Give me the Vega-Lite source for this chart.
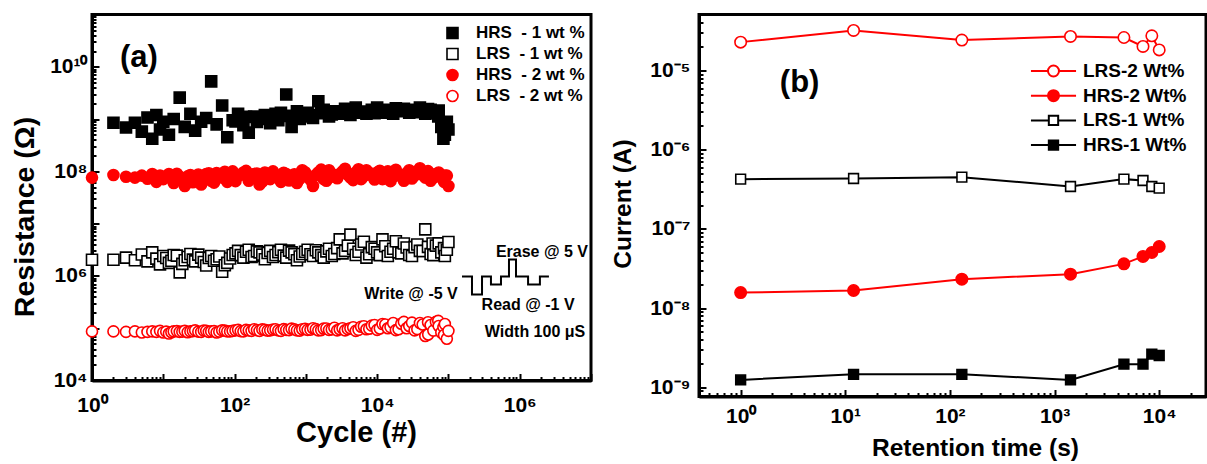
{
  "$schema": "https://vega.github.io/schema/vega-lite/v6.json",
  "background": "white",
  "padding": {"left": 8, "top": 12.5, "right": 0, "bottom": 0},
  "config": {
    "font": "Liberation Sans",
    "view": {"stroke": "black", "strokeWidth": 3},
    "axis": {
      "domainColor": "black", "domainWidth": 3, "tickColor": "black", "tickWidth": 2,
      "labelFont": "Liberation Sans", "labelFontWeight": "bold", "labelColor": "black",
      "titleFont": "Liberation Sans", "titleFontWeight": "bold", "titleColor": "black",
      "grid": false, "labelOverlap": false, "labelFlush": false, "labelBound": false
    },
    "legend": {"labelFont": "Liberation Sans", "labelFontWeight": "bold", "labelColor": "black", "padding": 0}
  },
  "resolve": {
    "scale": {"fill": "independent", "stroke": "independent", "shape": "independent", "color": "independent"},
    "legend": {"fill": "independent", "stroke": "independent", "shape": "independent", "color": "independent"}
  },
  "datasets": {
    "cyc": [
      {"c":2,"r":8.5e8,"s":"HRS\u00a0 - 1 wt %"},{"c":3,"r":6.9e8,"s":"HRS\u00a0 - 1 wt %"},{"c":4,"r":8.5e8,"s":"HRS\u00a0 - 1 wt %"},{"c":5,"r":5.75e8,"s":"HRS\u00a0 - 1 wt %"},{"c":6,"r":1.07e9,"s":"HRS\u00a0 - 1 wt %"},{"c":7,"r":4.2e8,"s":"HRS\u00a0 - 1 wt %"},{"c":8,"r":1.2e9,"s":"HRS\u00a0 - 1 wt %"},{"c":9,"r":6.3e8,"s":"HRS\u00a0 - 1 wt %"},{"c":10,"r":8.9e8,"s":"HRS\u00a0 - 1 wt %"},{"c":12,"r":5.0e8,"s":"HRS\u00a0 - 1 wt %"},{"c":14,"r":1.0e9,"s":"HRS\u00a0 - 1 wt %"},{"c":17,"r":2.57e9,"s":"HRS\u00a0 - 1 wt %"},{"c":20,"r":7.1e8,"s":"HRS\u00a0 - 1 wt %"},{"c":24,"r":1.26e9,"s":"HRS\u00a0 - 1 wt %"},{"c":28,"r":6.0e8,"s":"HRS\u00a0 - 1 wt %"},{"c":34,"r":8.9e8,"s":"HRS\u00a0 - 1 wt %"},{"c":40,"r":1.05e9,"s":"HRS\u00a0 - 1 wt %"},{"c":47,"r":5.25e9,"s":"HRS\u00a0 - 1 wt %"},{"c":56,"r":7.9e8,"s":"HRS\u00a0 - 1 wt %"},{"c":67,"r":1.82e9,"s":"HRS\u00a0 - 1 wt %"},{"c":79,"r":4.5e8,"s":"HRS\u00a0 - 1 wt %"},{"c":94,"r":9.5e8,"s":"HRS\u00a0 - 1 wt %"},{"c":112,"r":1.26e9,"s":"HRS\u00a0 - 1 wt %"},{"c":133,"r":7.6e8,"s":"HRS\u00a0 - 1 wt %"},{"c":158,"r":5.5e8,"s":"HRS\u00a0 - 1 wt %"},{"c":188,"r":1.12e9,"s":"HRS\u00a0 - 1 wt %"},{"c":224,"r":1.0e9,"s":"HRS\u00a0 - 1 wt %"},{"c":266,"r":1.2e9,"s":"HRS\u00a0 - 1 wt %"},{"c":316,"r":8.3e8,"s":"HRS\u00a0 - 1 wt %"},{"c":376,"r":1.26e9,"s":"HRS\u00a0 - 1 wt %"},{"c":447,"r":1.32e9,"s":"HRS\u00a0 - 1 wt %"},{"c":531,"r":2.95e9,"s":"HRS\u00a0 - 1 wt %"},{"c":631,"r":7.1e8,"s":"HRS\u00a0 - 1 wt %"},{"c":750,"r":1.41e9,"s":"HRS\u00a0 - 1 wt %"},{"c":891,"r":1.12e9,"s":"HRS\u00a0 - 1 wt %"},{"c":1059,"r":1.32e9,"s":"HRS\u00a0 - 1 wt %"},{"c":1259,"r":1.05e9,"s":"HRS\u00a0 - 1 wt %"},{"c":1496,"r":2.19e9,"s":"HRS\u00a0 - 1 wt %"},{"c":1778,"r":1.51e9,"s":"HRS\u00a0 - 1 wt %"},{"c":2113,"r":1.12e9,"s":"HRS\u00a0 - 1 wt %"},{"c":2512,"r":1.41e9,"s":"HRS\u00a0 - 1 wt %"},{"c":2985,"r":1.26e9,"s":"HRS\u00a0 - 1 wt %"},{"c":3548,"r":1.58e9,"s":"HRS\u00a0 - 1 wt %"},{"c":4217,"r":1.2e9,"s":"HRS\u00a0 - 1 wt %"},{"c":5012,"r":1.66e9,"s":"HRS\u00a0 - 1 wt %"},{"c":5957,"r":1.32e9,"s":"HRS\u00a0 - 1 wt %"},{"c":7079,"r":1.26e9,"s":"HRS\u00a0 - 1 wt %"},{"c":8414,"r":1.51e9,"s":"HRS\u00a0 - 1 wt %"},{"c":10000,"r":1.66e9,"s":"HRS\u00a0 - 1 wt %"},{"c":11885,"r":1.32e9,"s":"HRS\u00a0 - 1 wt %"},{"c":14125,"r":1.51e9,"s":"HRS\u00a0 - 1 wt %"},{"c":16788,"r":1.26e9,"s":"HRS\u00a0 - 1 wt %"},{"c":19953,"r":1.41e9,"s":"HRS\u00a0 - 1 wt %"},{"c":23714,"r":1.58e9,"s":"HRS\u00a0 - 1 wt %"},{"c":28184,"r":1.32e9,"s":"HRS\u00a0 - 1 wt %"},{"c":33497,"r":1.51e9,"s":"HRS\u00a0 - 1 wt %"},{"c":39811,"r":1.66e9,"s":"HRS\u00a0 - 1 wt %"},{"c":47315,"r":1.26e9,"s":"HRS\u00a0 - 1 wt %"},{"c":56234,"r":1.51e9,"s":"HRS\u00a0 - 1 wt %"},{"c":66834,"r":1.41e9,"s":"HRS\u00a0 - 1 wt %"},{"c":72000,"r":1.12e9,"s":"HRS\u00a0 - 1 wt %"},{"c":79433,"r":7.1e8,"s":"HRS\u00a0 - 1 wt %"},{"c":85000,"r":4.2e8,"s":"HRS\u00a0 - 1 wt %"},{"c":89125,"r":5.0e8,"s":"HRS\u00a0 - 1 wt %"},{"c":95000,"r":8.9e8,"s":"HRS\u00a0 - 1 wt %"},{"c":100000,"r":6.3e8,"s":"HRS\u00a0 - 1 wt %"},
      {"c":103,"r":9.0e8,"s":"HRS\u00a0 - 1 wt %"},{"c":145,"r":1.1e9,"s":"HRS\u00a0 - 1 wt %"},{"c":206,"r":8.8e8,"s":"HRS\u00a0 - 1 wt %"},{"c":291,"r":1.05e9,"s":"HRS\u00a0 - 1 wt %"},{"c":411,"r":9.5e8,"s":"HRS\u00a0 - 1 wt %"},{"c":581,"r":1.15e9,"s":"HRS\u00a0 - 1 wt %"},{"c":820,"r":1.0e9,"s":"HRS\u00a0 - 1 wt %"},{"c":1160,"r":1.2e9,"s":"HRS\u00a0 - 1 wt %"},{"c":1640,"r":1.3e9,"s":"HRS\u00a0 - 1 wt %"},{"c":2310,"r":1.22e9,"s":"HRS\u00a0 - 1 wt %"},{"c":3270,"r":1.35e9,"s":"HRS\u00a0 - 1 wt %"},{"c":4610,"r":1.45e9,"s":"HRS\u00a0 - 1 wt %"},{"c":6510,"r":1.4e9,"s":"HRS\u00a0 - 1 wt %"},{"c":9200,"r":1.3e9,"s":"HRS\u00a0 - 1 wt %"},{"c":13000,"r":1.45e9,"s":"HRS\u00a0 - 1 wt %"},{"c":18300,"r":1.6e9,"s":"HRS\u00a0 - 1 wt %"},{"c":25900,"r":1.45e9,"s":"HRS\u00a0 - 1 wt %"},{"c":36600,"r":1.35e9,"s":"HRS\u00a0 - 1 wt %"},{"c":51700,"r":1.55e9,"s":"HRS\u00a0 - 1 wt %"},{"c":61400,"r":1.3e9,"s":"HRS\u00a0 - 1 wt %"},{"c":73000,"r":1.45e9,"s":"HRS\u00a0 - 1 wt %"},{"c":86800,"r":8.0e8,"s":"HRS\u00a0 - 1 wt %"},
      {"c":1,"r":2.04e6,"s":"LRS\u00a0 - 1 wt %"},{"c":2,"r":2.04e6,"s":"LRS\u00a0 - 1 wt %"},{"c":3,"r":2.24e6,"s":"LRS\u00a0 - 1 wt %"},{"c":4,"r":2.0e6,"s":"LRS\u00a0 - 1 wt %"},{"c":5,"r":2.57e6,"s":"LRS\u00a0 - 1 wt %"},{"c":6,"r":1.9e6,"s":"LRS\u00a0 - 1 wt %"},{"c":7,"r":2.82e6,"s":"LRS\u00a0 - 1 wt %"},{"c":8,"r":2.14e6,"s":"LRS\u00a0 - 1 wt %"},{"c":9,"r":1.66e6,"s":"LRS\u00a0 - 1 wt %"},{"c":10,"r":2.4e6,"s":"LRS\u00a0 - 1 wt %"},{"c":12,"r":1.78e6,"s":"LRS\u00a0 - 1 wt %"},{"c":14,"r":2.51e6,"s":"LRS\u00a0 - 1 wt %"},{"c":17,"r":1.17e6,"s":"LRS\u00a0 - 1 wt %"},{"c":20,"r":2.0e6,"s":"LRS\u00a0 - 1 wt %"},{"c":24,"r":2.63e6,"s":"LRS\u00a0 - 1 wt %"},{"c":28,"r":1.9e6,"s":"LRS\u00a0 - 1 wt %"},{"c":34,"r":2.24e6,"s":"LRS\u00a0 - 1 wt %"},{"c":40,"r":1.58e6,"s":"LRS\u00a0 - 1 wt %"},{"c":47,"r":2.4e6,"s":"LRS\u00a0 - 1 wt %"},{"c":56,"r":2.09e6,"s":"LRS\u00a0 - 1 wt %"},{"c":67,"r":1.2e6,"s":"LRS\u00a0 - 1 wt %"},{"c":79,"r":1.78e6,"s":"LRS\u00a0 - 1 wt %"},{"c":94,"r":2.51e6,"s":"LRS\u00a0 - 1 wt %"},{"c":112,"r":3.02e6,"s":"LRS\u00a0 - 1 wt %"},{"c":133,"r":2.24e6,"s":"LRS\u00a0 - 1 wt %"},{"c":158,"r":3.16e6,"s":"LRS\u00a0 - 1 wt %"},{"c":188,"r":2.4e6,"s":"LRS\u00a0 - 1 wt %"},{"c":224,"r":2.82e6,"s":"LRS\u00a0 - 1 wt %"},{"c":266,"r":2.09e6,"s":"LRS\u00a0 - 1 wt %"},{"c":316,"r":3.02e6,"s":"LRS\u00a0 - 1 wt %"},{"c":376,"r":2.51e6,"s":"LRS\u00a0 - 1 wt %"},{"c":447,"r":3.16e6,"s":"LRS\u00a0 - 1 wt %"},{"c":531,"r":2.24e6,"s":"LRS\u00a0 - 1 wt %"},{"c":631,"r":2.82e6,"s":"LRS\u00a0 - 1 wt %"},{"c":750,"r":2.0e6,"s":"LRS\u00a0 - 1 wt %"},{"c":891,"r":2.63e6,"s":"LRS\u00a0 - 1 wt %"},{"c":1059,"r":3.16e6,"s":"LRS\u00a0 - 1 wt %"},{"c":1259,"r":2.4e6,"s":"LRS\u00a0 - 1 wt %"},{"c":1496,"r":2.82e6,"s":"LRS\u00a0 - 1 wt %"},{"c":1778,"r":2.24e6,"s":"LRS\u00a0 - 1 wt %"},{"c":2113,"r":3.31e6,"s":"LRS\u00a0 - 1 wt %"},{"c":2512,"r":2.63e6,"s":"LRS\u00a0 - 1 wt %"},{"c":2985,"r":5.0e6,"s":"LRS\u00a0 - 1 wt %"},{"c":3548,"r":3.02e6,"s":"LRS\u00a0 - 1 wt %"},{"c":4217,"r":6.17e6,"s":"LRS\u00a0 - 1 wt %"},{"c":5012,"r":2.51e6,"s":"LRS\u00a0 - 1 wt %"},{"c":5957,"r":3.98e6,"s":"LRS\u00a0 - 1 wt %"},{"c":7079,"r":2.24e6,"s":"LRS\u00a0 - 1 wt %"},{"c":8414,"r":3.55e6,"s":"LRS\u00a0 - 1 wt %"},{"c":10000,"r":2.82e6,"s":"LRS\u00a0 - 1 wt %"},{"c":11885,"r":5.0e6,"s":"LRS\u00a0 - 1 wt %"},{"c":14125,"r":2.4e6,"s":"LRS\u00a0 - 1 wt %"},{"c":16788,"r":3.31e6,"s":"LRS\u00a0 - 1 wt %"},{"c":19953,"r":2.82e6,"s":"LRS\u00a0 - 1 wt %"},{"c":23714,"r":4.17e6,"s":"LRS\u00a0 - 1 wt %"},{"c":28184,"r":2.51e6,"s":"LRS\u00a0 - 1 wt %"},{"c":33497,"r":3.55e6,"s":"LRS\u00a0 - 1 wt %"},{"c":39811,"r":3.02e6,"s":"LRS\u00a0 - 1 wt %"},{"c":47315,"r":7.76e6,"s":"LRS\u00a0 - 1 wt %"},{"c":56234,"r":2.63e6,"s":"LRS\u00a0 - 1 wt %"},{"c":60000,"r":4.17e6,"s":"LRS\u00a0 - 1 wt %"},{"c":66834,"r":3.8e6,"s":"LRS\u00a0 - 1 wt %"},{"c":79433,"r":2.82e6,"s":"LRS\u00a0 - 1 wt %"},{"c":89125,"r":2.4e6,"s":"LRS\u00a0 - 1 wt %"},{"c":95000,"r":3.16e6,"s":"LRS\u00a0 - 1 wt %"},{"c":100000,"r":4.47e6,"s":"LRS\u00a0 - 1 wt %"},
      {"c":11,"r":2.2e6,"s":"LRS\u00a0 - 1 wt %"},{"c":13,"r":1.95e6,"s":"LRS\u00a0 - 1 wt %"},{"c":15.5,"r":2.45e6,"s":"LRS\u00a0 - 1 wt %"},{"c":18.5,"r":1.7e6,"s":"LRS\u00a0 - 1 wt %"},{"c":22,"r":2.3e6,"s":"LRS\u00a0 - 1 wt %"},{"c":26,"r":2.05e6,"s":"LRS\u00a0 - 1 wt %"},{"c":31,"r":2.55e6,"s":"LRS\u00a0 - 1 wt %"},{"c":37,"r":1.85e6,"s":"LRS\u00a0 - 1 wt %"},{"c":43.5,"r":2.2e6,"s":"LRS\u00a0 - 1 wt %"},{"c":51.5,"r":1.95e6,"s":"LRS\u00a0 - 1 wt %"},{"c":61,"r":2.35e6,"s":"LRS\u00a0 - 1 wt %"},{"c":73,"r":1.6e6,"s":"LRS\u00a0 - 1 wt %"},{"c":86.5,"r":2.15e6,"s":"LRS\u00a0 - 1 wt %"},{"c":103,"r":2.7e6,"s":"LRS\u00a0 - 1 wt %"},{"c":122,"r":2.5e6,"s":"LRS\u00a0 - 1 wt %"},{"c":145,"r":2.9e6,"s":"LRS\u00a0 - 1 wt %"},{"c":173,"r":2.3e6,"s":"LRS\u00a0 - 1 wt %"},{"c":206,"r":2.95e6,"s":"LRS\u00a0 - 1 wt %"},{"c":245,"r":2.55e6,"s":"LRS\u00a0 - 1 wt %"},{"c":291,"r":2.75e6,"s":"LRS\u00a0 - 1 wt %"},{"c":346,"r":2.3e6,"s":"LRS\u00a0 - 1 wt %"},{"c":411,"r":2.85e6,"s":"LRS\u00a0 - 1 wt %"},{"c":489,"r":2.45e6,"s":"LRS\u00a0 - 1 wt %"},{"c":581,"r":3.05e6,"s":"LRS\u00a0 - 1 wt %"},{"c":690,"r":2.6e6,"s":"LRS\u00a0 - 1 wt %"},{"c":820,"r":2.35e6,"s":"LRS\u00a0 - 1 wt %"},{"c":975,"r":2.9e6,"s":"LRS\u00a0 - 1 wt %"},{"c":1160,"r":2.6e6,"s":"LRS\u00a0 - 1 wt %"},{"c":1380,"r":3.1e6,"s":"LRS\u00a0 - 1 wt %"},{"c":1640,"r":2.5e6,"s":"LRS\u00a0 - 1 wt %"},{"c":1940,"r":2.95e6,"s":"LRS\u00a0 - 1 wt %"},{"c":2310,"r":2.4e6,"s":"LRS\u00a0 - 1 wt %"},{"c":2750,"r":3.4e6,"s":"LRS\u00a0 - 1 wt %"},{"c":3270,"r":2.7e6,"s":"LRS\u00a0 - 1 wt %"},{"c":3880,"r":3.8e6,"s":"LRS\u00a0 - 1 wt %"},{"c":4610,"r":3.3e6,"s":"LRS\u00a0 - 1 wt %"},{"c":5480,"r":2.9e6,"s":"LRS\u00a0 - 1 wt %"},{"c":6510,"r":4.5e6,"s":"LRS\u00a0 - 1 wt %"},{"c":7740,"r":2.6e6,"s":"LRS\u00a0 - 1 wt %"},{"c":9200,"r":3.3e6,"s":"LRS\u00a0 - 1 wt %"},{"c":10900,"r":2.5e6,"s":"LRS\u00a0 - 1 wt %"},{"c":13000,"r":3.7e6,"s":"LRS\u00a0 - 1 wt %"},{"c":15400,"r":2.9e6,"s":"LRS\u00a0 - 1 wt %"},{"c":18300,"r":4.6e6,"s":"LRS\u00a0 - 1 wt %"},{"c":21800,"r":2.7e6,"s":"LRS\u00a0 - 1 wt %"},{"c":25900,"r":3.5e6,"s":"LRS\u00a0 - 1 wt %"},{"c":30800,"r":2.4e6,"s":"LRS\u00a0 - 1 wt %"},{"c":36600,"r":4.0e6,"s":"LRS\u00a0 - 1 wt %"},{"c":43500,"r":3.0e6,"s":"LRS\u00a0 - 1 wt %"},{"c":51700,"r":3.6e6,"s":"LRS\u00a0 - 1 wt %"},{"c":61400,"r":2.5e6,"s":"LRS\u00a0 - 1 wt %"},{"c":73000,"r":4.2e6,"s":"LRS\u00a0 - 1 wt %"},{"c":86800,"r":3.4e6,"s":"LRS\u00a0 - 1 wt %"},
      {"c":1,"r":7.6e7,"s":"HRS\u00a0 - 2 wt %"},{"c":2,"r":8.5e7,"s":"HRS\u00a0 - 2 wt %"},{"c":3,"r":7.9e7,"s":"HRS\u00a0 - 2 wt %"},{"c":4,"r":7.6e7,"s":"HRS\u00a0 - 2 wt %"},{"c":5,"r":8.3e7,"s":"HRS\u00a0 - 2 wt %"},{"c":6,"r":7.2e7,"s":"HRS\u00a0 - 2 wt %"},{"c":7,"r":8.9e7,"s":"HRS\u00a0 - 2 wt %"},{"c":8,"r":6.3e7,"s":"HRS\u00a0 - 2 wt %"},{"c":9,"r":8.3e7,"s":"HRS\u00a0 - 2 wt %"},{"c":10,"r":7.1e7,"s":"HRS\u00a0 - 2 wt %"},{"c":12,"r":8.9e7,"s":"HRS\u00a0 - 2 wt %"},{"c":14,"r":6.0e7,"s":"HRS\u00a0 - 2 wt %"},{"c":17,"r":7.9e7,"s":"HRS\u00a0 - 2 wt %"},{"c":20,"r":5.25e7,"s":"HRS\u00a0 - 2 wt %"},{"c":24,"r":8.5e7,"s":"HRS\u00a0 - 2 wt %"},{"c":28,"r":7.1e7,"s":"HRS\u00a0 - 2 wt %"},{"c":34,"r":5.6e7,"s":"HRS\u00a0 - 2 wt %"},{"c":40,"r":8.9e7,"s":"HRS\u00a0 - 2 wt %"},{"c":47,"r":6.6e7,"s":"HRS\u00a0 - 2 wt %"},{"c":56,"r":9.3e7,"s":"HRS\u00a0 - 2 wt %"},{"c":67,"r":7.6e7,"s":"HRS\u00a0 - 2 wt %"},{"c":79,"r":6.3e7,"s":"HRS\u00a0 - 2 wt %"},{"c":94,"r":1.0e8,"s":"HRS\u00a0 - 2 wt %"},{"c":112,"r":8.3e7,"s":"HRS\u00a0 - 2 wt %"},{"c":133,"r":9.5e7,"s":"HRS\u00a0 - 2 wt %"},{"c":158,"r":6.6e7,"s":"HRS\u00a0 - 2 wt %"},{"c":188,"r":8.9e7,"s":"HRS\u00a0 - 2 wt %"},{"c":224,"r":5.6e7,"s":"HRS\u00a0 - 2 wt %"},{"c":266,"r":9.5e7,"s":"HRS\u00a0 - 2 wt %"},{"c":316,"r":7.1e7,"s":"HRS\u00a0 - 2 wt %"},{"c":376,"r":8.3e7,"s":"HRS\u00a0 - 2 wt %"},{"c":447,"r":6.3e7,"s":"HRS\u00a0 - 2 wt %"},{"c":531,"r":8.9e7,"s":"HRS\u00a0 - 2 wt %"},{"c":631,"r":7.6e7,"s":"HRS\u00a0 - 2 wt %"},{"c":750,"r":6.0e7,"s":"HRS\u00a0 - 2 wt %"},{"c":891,"r":1.05e8,"s":"HRS\u00a0 - 2 wt %"},{"c":1059,"r":7.9e7,"s":"HRS\u00a0 - 2 wt %"},{"c":1259,"r":5.25e7,"s":"HRS\u00a0 - 2 wt %"},{"c":1496,"r":9.5e7,"s":"HRS\u00a0 - 2 wt %"},{"c":1778,"r":7.1e7,"s":"HRS\u00a0 - 2 wt %"},{"c":2113,"r":1.05e8,"s":"HRS\u00a0 - 2 wt %"},{"c":2512,"r":7.9e7,"s":"HRS\u00a0 - 2 wt %"},{"c":2985,"r":8.9e7,"s":"HRS\u00a0 - 2 wt %"},{"c":3548,"r":1.12e8,"s":"HRS\u00a0 - 2 wt %"},{"c":4217,"r":7.6e7,"s":"HRS\u00a0 - 2 wt %"},{"c":5012,"r":9.5e7,"s":"HRS\u00a0 - 2 wt %"},{"c":5957,"r":7.1e7,"s":"HRS\u00a0 - 2 wt %"},{"c":7079,"r":1.05e8,"s":"HRS\u00a0 - 2 wt %"},{"c":8414,"r":8.3e7,"s":"HRS\u00a0 - 2 wt %"},{"c":10000,"r":9.5e7,"s":"HRS\u00a0 - 2 wt %"},{"c":11885,"r":7.1e7,"s":"HRS\u00a0 - 2 wt %"},{"c":14125,"r":1.0e8,"s":"HRS\u00a0 - 2 wt %"},{"c":16788,"r":7.9e7,"s":"HRS\u00a0 - 2 wt %"},{"c":19953,"r":8.9e7,"s":"HRS\u00a0 - 2 wt %"},{"c":23714,"r":6.6e7,"s":"HRS\u00a0 - 2 wt %"},{"c":28184,"r":1.05e8,"s":"HRS\u00a0 - 2 wt %"},{"c":33497,"r":8.3e7,"s":"HRS\u00a0 - 2 wt %"},{"c":39811,"r":1.15e8,"s":"HRS\u00a0 - 2 wt %"},{"c":47315,"r":7.6e7,"s":"HRS\u00a0 - 2 wt %"},{"c":56234,"r":6.6e7,"s":"HRS\u00a0 - 2 wt %"},{"c":66834,"r":8.9e7,"s":"HRS\u00a0 - 2 wt %"},{"c":79433,"r":7.6e7,"s":"HRS\u00a0 - 2 wt %"},{"c":89125,"r":8.3e7,"s":"HRS\u00a0 - 2 wt %"},{"c":95000,"r":8.3e7,"s":"HRS\u00a0 - 2 wt %"},{"c":100000,"r":5.25e7,"s":"HRS\u00a0 - 2 wt %"},
      {"c":11,"r":8.1e7,"s":"HRS\u00a0 - 2 wt %"},{"c":13,"r":7.4e7,"s":"HRS\u00a0 - 2 wt %"},{"c":15.5,"r":9.0e7,"s":"HRS\u00a0 - 2 wt %"},{"c":18.5,"r":6.8e7,"s":"HRS\u00a0 - 2 wt %"},{"c":22,"r":8.0e7,"s":"HRS\u00a0 - 2 wt %"},{"c":26,"r":6.2e7,"s":"HRS\u00a0 - 2 wt %"},{"c":31,"r":8.7e7,"s":"HRS\u00a0 - 2 wt %"},{"c":37,"r":7.0e7,"s":"HRS\u00a0 - 2 wt %"},{"c":43.5,"r":9.2e7,"s":"HRS\u00a0 - 2 wt %"},{"c":51.5,"r":6.1e7,"s":"HRS\u00a0 - 2 wt %"},{"c":61,"r":8.4e7,"s":"HRS\u00a0 - 2 wt %"},{"c":73,"r":9.8e7,"s":"HRS\u00a0 - 2 wt %"},{"c":86.5,"r":7.3e7,"s":"HRS\u00a0 - 2 wt %"},{"c":103,"r":6.5e7,"s":"HRS\u00a0 - 2 wt %"},{"c":122,"r":8.6e7,"s":"HRS\u00a0 - 2 wt %"},{"c":145,"r":1.02e8,"s":"HRS\u00a0 - 2 wt %"},{"c":173,"r":7.5e7,"s":"HRS\u00a0 - 2 wt %"},{"c":206,"r":9.1e7,"s":"HRS\u00a0 - 2 wt %"},{"c":245,"r":6.4e7,"s":"HRS\u00a0 - 2 wt %"},{"c":291,"r":8.2e7,"s":"HRS\u00a0 - 2 wt %"},{"c":346,"r":1.0e8,"s":"HRS\u00a0 - 2 wt %"},{"c":411,"r":7.7e7,"s":"HRS\u00a0 - 2 wt %"},{"c":489,"r":9.4e7,"s":"HRS\u00a0 - 2 wt %"},{"c":581,"r":6.7e7,"s":"HRS\u00a0 - 2 wt %"},{"c":690,"r":8.8e7,"s":"HRS\u00a0 - 2 wt %"},{"c":820,"r":7.2e7,"s":"HRS\u00a0 - 2 wt %"},{"c":975,"r":9.6e7,"s":"HRS\u00a0 - 2 wt %"},{"c":1160,"r":6.9e7,"s":"HRS\u00a0 - 2 wt %"},{"c":1380,"r":8.5e7,"s":"HRS\u00a0 - 2 wt %"},{"c":1640,"r":1.08e8,"s":"HRS\u00a0 - 2 wt %"},{"c":1940,"r":6.6e7,"s":"HRS\u00a0 - 2 wt %"},{"c":2310,"r":9.0e7,"s":"HRS\u00a0 - 2 wt %"},{"c":2750,"r":7.4e7,"s":"HRS\u00a0 - 2 wt %"},{"c":3270,"r":1.0e8,"s":"HRS\u00a0 - 2 wt %"},{"c":3880,"r":8.6e7,"s":"HRS\u00a0 - 2 wt %"},{"c":4610,"r":6.8e7,"s":"HRS\u00a0 - 2 wt %"},{"c":5480,"r":1.1e8,"s":"HRS\u00a0 - 2 wt %"},{"c":6510,"r":8.1e7,"s":"HRS\u00a0 - 2 wt %"},{"c":7740,"r":9.4e7,"s":"HRS\u00a0 - 2 wt %"},{"c":9200,"r":7.0e7,"s":"HRS\u00a0 - 2 wt %"},{"c":10900,"r":1.03e8,"s":"HRS\u00a0 - 2 wt %"},{"c":13000,"r":8.4e7,"s":"HRS\u00a0 - 2 wt %"},{"c":15400,"r":6.5e7,"s":"HRS\u00a0 - 2 wt %"},{"c":18300,"r":1.07e8,"s":"HRS\u00a0 - 2 wt %"},{"c":21800,"r":8.0e7,"s":"HRS\u00a0 - 2 wt %"},{"c":25900,"r":9.2e7,"s":"HRS\u00a0 - 2 wt %"},{"c":30800,"r":7.3e7,"s":"HRS\u00a0 - 2 wt %"},{"c":36600,"r":9.9e7,"s":"HRS\u00a0 - 2 wt %"},{"c":43500,"r":8.6e7,"s":"HRS\u00a0 - 2 wt %"},{"c":51700,"r":1.01e8,"s":"HRS\u00a0 - 2 wt %"},{"c":61400,"r":7.5e7,"s":"HRS\u00a0 - 2 wt %"},{"c":73000,"r":9.5e7,"s":"HRS\u00a0 - 2 wt %"},{"c":86800,"r":6.3e7,"s":"HRS\u00a0 - 2 wt %"},
      {"c":1,"r":8.7e4,"s":"LRS\u00a0 - 2 wt %"},{"c":2,"r":8.7e4,"s":"LRS\u00a0 - 2 wt %"},{"c":3,"r":8.5e4,"s":"LRS\u00a0 - 2 wt %"},{"c":4,"r":8.7e4,"s":"LRS\u00a0 - 2 wt %"},{"c":5,"r":8.3e4,"s":"LRS\u00a0 - 2 wt %"},{"c":6,"r":8.5e4,"s":"LRS\u00a0 - 2 wt %"},{"c":7,"r":8.7e4,"s":"LRS\u00a0 - 2 wt %"},{"c":8,"r":8.5e4,"s":"LRS\u00a0 - 2 wt %"},{"c":9,"r":8.9e4,"s":"LRS\u00a0 - 2 wt %"},{"c":10,"r":8.3e4,"s":"LRS\u00a0 - 2 wt %"},{"c":12,"r":7.9e4,"s":"LRS\u00a0 - 2 wt %"},{"c":14,"r":8.7e4,"s":"LRS\u00a0 - 2 wt %"},{"c":17,"r":8.5e4,"s":"LRS\u00a0 - 2 wt %"},{"c":20,"r":8.9e4,"s":"LRS\u00a0 - 2 wt %"},{"c":24,"r":8.7e4,"s":"LRS\u00a0 - 2 wt %"},{"c":28,"r":9.1e4,"s":"LRS\u00a0 - 2 wt %"},{"c":34,"r":8.5e4,"s":"LRS\u00a0 - 2 wt %"},{"c":40,"r":8.9e4,"s":"LRS\u00a0 - 2 wt %"},{"c":47,"r":8.7e4,"s":"LRS\u00a0 - 2 wt %"},{"c":56,"r":8.3e4,"s":"LRS\u00a0 - 2 wt %"},{"c":67,"r":9.1e4,"s":"LRS\u00a0 - 2 wt %"},{"c":79,"r":8.7e4,"s":"LRS\u00a0 - 2 wt %"},{"c":94,"r":8.9e4,"s":"LRS\u00a0 - 2 wt %"},{"c":112,"r":9.3e4,"s":"LRS\u00a0 - 2 wt %"},{"c":133,"r":8.7e4,"s":"LRS\u00a0 - 2 wt %"},{"c":158,"r":9.1e4,"s":"LRS\u00a0 - 2 wt %"},{"c":188,"r":9.55e4,"s":"LRS\u00a0 - 2 wt %"},{"c":224,"r":8.9e4,"s":"LRS\u00a0 - 2 wt %"},{"c":266,"r":9.3e4,"s":"LRS\u00a0 - 2 wt %"},{"c":316,"r":9.1e4,"s":"LRS\u00a0 - 2 wt %"},{"c":376,"r":9.55e4,"s":"LRS\u00a0 - 2 wt %"},{"c":447,"r":8.9e4,"s":"LRS\u00a0 - 2 wt %"},{"c":531,"r":9.3e4,"s":"LRS\u00a0 - 2 wt %"},{"c":631,"r":9.8e4,"s":"LRS\u00a0 - 2 wt %"},{"c":750,"r":9.1e4,"s":"LRS\u00a0 - 2 wt %"},{"c":891,"r":9.55e4,"s":"LRS\u00a0 - 2 wt %"},{"c":1059,"r":9.3e4,"s":"LRS\u00a0 - 2 wt %"},{"c":1259,"r":1.0e5,"s":"LRS\u00a0 - 2 wt %"},{"c":1496,"r":9.1e4,"s":"LRS\u00a0 - 2 wt %"},{"c":1778,"r":9.8e4,"s":"LRS\u00a0 - 2 wt %"},{"c":2113,"r":9.3e4,"s":"LRS\u00a0 - 2 wt %"},{"c":2512,"r":1.02e5,"s":"LRS\u00a0 - 2 wt %"},{"c":2985,"r":9.55e4,"s":"LRS\u00a0 - 2 wt %"},{"c":3548,"r":9.1e4,"s":"LRS\u00a0 - 2 wt %"},{"c":4217,"r":1.0e5,"s":"LRS\u00a0 - 2 wt %"},{"c":5012,"r":8.9e4,"s":"LRS\u00a0 - 2 wt %"},{"c":5957,"r":1.07e5,"s":"LRS\u00a0 - 2 wt %"},{"c":7079,"r":9.55e4,"s":"LRS\u00a0 - 2 wt %"},{"c":8414,"r":1.12e5,"s":"LRS\u00a0 - 2 wt %"},{"c":10000,"r":9.3e4,"s":"LRS\u00a0 - 2 wt %"},{"c":11885,"r":1.2e5,"s":"LRS\u00a0 - 2 wt %"},{"c":14125,"r":1.0e5,"s":"LRS\u00a0 - 2 wt %"},{"c":16788,"r":1.26e5,"s":"LRS\u00a0 - 2 wt %"},{"c":19953,"r":9.55e4,"s":"LRS\u00a0 - 2 wt %"},{"c":23714,"r":1.32e5,"s":"LRS\u00a0 - 2 wt %"},{"c":28184,"r":1.1e5,"s":"LRS\u00a0 - 2 wt %"},{"c":33497,"r":9.1e4,"s":"LRS\u00a0 - 2 wt %"},{"c":39811,"r":1.26e5,"s":"LRS\u00a0 - 2 wt %"},{"c":47315,"r":7.1e4,"s":"LRS\u00a0 - 2 wt %"},{"c":52000,"r":7.6e4,"s":"LRS\u00a0 - 2 wt %"},{"c":56234,"r":1.15e5,"s":"LRS\u00a0 - 2 wt %"},{"c":66834,"r":1.32e5,"s":"LRS\u00a0 - 2 wt %"},{"c":72000,"r":1.38e5,"s":"LRS\u00a0 - 2 wt %"},{"c":79433,"r":8.3e4,"s":"LRS\u00a0 - 2 wt %"},{"c":85000,"r":1.05e5,"s":"LRS\u00a0 - 2 wt %"},{"c":89125,"r":1.2e5,"s":"LRS\u00a0 - 2 wt %"},{"c":95000,"r":6.3e4,"s":"LRS\u00a0 - 2 wt %"},{"c":100000,"r":8.9e4,"s":"LRS\u00a0 - 2 wt %"},
      {"c":11,"r":8.6e4,"s":"LRS\u00a0 - 2 wt %"},{"c":13,"r":8.4e4,"s":"LRS\u00a0 - 2 wt %"},{"c":15.5,"r":8.8e4,"s":"LRS\u00a0 - 2 wt %"},{"c":18.5,"r":8.6e4,"s":"LRS\u00a0 - 2 wt %"},{"c":22,"r":8.4e4,"s":"LRS\u00a0 - 2 wt %"},{"c":26,"r":8.8e4,"s":"LRS\u00a0 - 2 wt %"},{"c":31,"r":8.6e4,"s":"LRS\u00a0 - 2 wt %"},{"c":37,"r":9.0e4,"s":"LRS\u00a0 - 2 wt %"},{"c":43.5,"r":8.5e4,"s":"LRS\u00a0 - 2 wt %"},{"c":51.5,"r":8.8e4,"s":"LRS\u00a0 - 2 wt %"},{"c":61,"r":8.6e4,"s":"LRS\u00a0 - 2 wt %"},{"c":73,"r":9.0e4,"s":"LRS\u00a0 - 2 wt %"},{"c":86.5,"r":8.7e4,"s":"LRS\u00a0 - 2 wt %"},{"c":103,"r":9.1e4,"s":"LRS\u00a0 - 2 wt %"},{"c":122,"r":8.8e4,"s":"LRS\u00a0 - 2 wt %"},{"c":145,"r":9.3e4,"s":"LRS\u00a0 - 2 wt %"},{"c":173,"r":8.9e4,"s":"LRS\u00a0 - 2 wt %"},{"c":206,"r":9.2e4,"s":"LRS\u00a0 - 2 wt %"},{"c":245,"r":9.5e4,"s":"LRS\u00a0 - 2 wt %"},{"c":291,"r":9.0e4,"s":"LRS\u00a0 - 2 wt %"},{"c":346,"r":9.4e4,"s":"LRS\u00a0 - 2 wt %"},{"c":411,"r":9.1e4,"s":"LRS\u00a0 - 2 wt %"},{"c":489,"r":9.6e4,"s":"LRS\u00a0 - 2 wt %"},{"c":581,"r":9.2e4,"s":"LRS\u00a0 - 2 wt %"},{"c":690,"r":9.5e4,"s":"LRS\u00a0 - 2 wt %"},{"c":820,"r":9.0e4,"s":"LRS\u00a0 - 2 wt %"},{"c":975,"r":9.7e4,"s":"LRS\u00a0 - 2 wt %"},{"c":1160,"r":9.4e4,"s":"LRS\u00a0 - 2 wt %"},{"c":1380,"r":9.6e4,"s":"LRS\u00a0 - 2 wt %"},{"c":1640,"r":9.2e4,"s":"LRS\u00a0 - 2 wt %"},{"c":1940,"r":9.9e4,"s":"LRS\u00a0 - 2 wt %"},{"c":2310,"r":9.5e4,"s":"LRS\u00a0 - 2 wt %"},{"c":2750,"r":9.1e4,"s":"LRS\u00a0 - 2 wt %"},{"c":3270,"r":1.0e5,"s":"LRS\u00a0 - 2 wt %"},{"c":3880,"r":9.6e4,"s":"LRS\u00a0 - 2 wt %"},{"c":4610,"r":1.04e5,"s":"LRS\u00a0 - 2 wt %"},{"c":5480,"r":9.3e4,"s":"LRS\u00a0 - 2 wt %"},{"c":6510,"r":1.09e5,"s":"LRS\u00a0 - 2 wt %"},{"c":7740,"r":9.8e4,"s":"LRS\u00a0 - 2 wt %"},{"c":9200,"r":1.15e5,"s":"LRS\u00a0 - 2 wt %"},{"c":10900,"r":9.9e4,"s":"LRS\u00a0 - 2 wt %"},{"c":13000,"r":1.18e5,"s":"LRS\u00a0 - 2 wt %"},{"c":15400,"r":1.05e5,"s":"LRS\u00a0 - 2 wt %"},{"c":18300,"r":9.2e4,"s":"LRS\u00a0 - 2 wt %"},{"c":21800,"r":1.22e5,"s":"LRS\u00a0 - 2 wt %"},{"c":25900,"r":1.0e5,"s":"LRS\u00a0 - 2 wt %"},{"c":30800,"r":1.28e5,"s":"LRS\u00a0 - 2 wt %"},{"c":36600,"r":9.6e4,"s":"LRS\u00a0 - 2 wt %"},{"c":43500,"r":1.18e5,"s":"LRS\u00a0 - 2 wt %"},{"c":51700,"r":1.3e5,"s":"LRS\u00a0 - 2 wt %"},{"c":61400,"r":9.0e4,"s":"LRS\u00a0 - 2 wt %"},{"c":73000,"r":1.1e5,"s":"LRS\u00a0 - 2 wt %"},{"c":86800,"r":7.4e4,"s":"LRS\u00a0 - 2 wt %"}
    ],
    "pulse": [
      {"k":1,"c":155000,"r":980000},{"k":2,"c":214000,"r":980000},{"k":3,"c":214000,"r":442000},{"k":4,"c":296000,"r":442000},{"k":5,"c":296000,"r":980000},{"k":6,"c":395000,"r":980000},{"k":7,"c":395000,"r":686000},{"k":8,"c":546000,"r":686000},{"k":9,"c":546000,"r":980000},{"k":10,"c":707000,"r":980000},{"k":11,"c":707000,"r":2060000},{"k":12,"c":887000,"r":2060000},{"k":13,"c":887000,"r":980000},{"k":14,"c":1310000,"r":980000},{"k":15,"c":1310000,"r":686000},{"k":16,"c":1920000,"r":686000},{"k":17,"c":1920000,"r":980000},{"k":18,"c":2570000,"r":980000}
    ],
    "ret": [
      {"t":1,"i":2.28e-5,"s":"LRS-2 Wt%"},{"t":12,"i":3.2e-5,"s":"LRS-2 Wt%"},{"t":130,"i":2.42e-5,"s":"LRS-2 Wt%"},{"t":1420,"i":2.69e-5,"s":"LRS-2 Wt%"},{"t":4600,"i":2.61e-5,"s":"LRS-2 Wt%"},{"t":7000,"i":2.01e-5,"s":"LRS-2 Wt%"},{"t":8500,"i":2.74e-5,"s":"LRS-2 Wt%"},{"t":10000,"i":1.82e-5,"s":"LRS-2 Wt%"},
      {"t":1,"i":1.57e-8,"s":"HRS-2 Wt%"},{"t":12,"i":1.67e-8,"s":"HRS-2 Wt%"},{"t":130,"i":2.32e-8,"s":"HRS-2 Wt%"},{"t":1420,"i":2.68e-8,"s":"HRS-2 Wt%"},{"t":4600,"i":3.62e-8,"s":"HRS-2 Wt%"},{"t":7000,"i":4.49e-8,"s":"HRS-2 Wt%"},{"t":8500,"i":5.04e-8,"s":"HRS-2 Wt%"},{"t":10000,"i":6.0e-8,"s":"HRS-2 Wt%"},
      {"t":1,"i":4.25e-7,"s":"LRS-1 Wt%"},{"t":12,"i":4.33e-7,"s":"LRS-1 Wt%"},{"t":130,"i":4.5e-7,"s":"LRS-1 Wt%"},{"t":1420,"i":3.43e-7,"s":"LRS-1 Wt%"},{"t":4600,"i":4.25e-7,"s":"LRS-1 Wt%"},{"t":7000,"i":4.08e-7,"s":"LRS-1 Wt%"},{"t":8500,"i":3.43e-7,"s":"LRS-1 Wt%"},{"t":10000,"i":3.27e-7,"s":"LRS-1 Wt%"},
      {"t":1,"i":1.24e-9,"s":"HRS-1 Wt%"},{"t":12,"i":1.46e-9,"s":"HRS-1 Wt%"},{"t":130,"i":1.46e-9,"s":"HRS-1 Wt%"},{"t":1420,"i":1.24e-9,"s":"HRS-1 Wt%"},{"t":4600,"i":1.96e-9,"s":"HRS-1 Wt%"},{"t":7000,"i":1.96e-9,"s":"HRS-1 Wt%"},{"t":8500,"i":2.62e-9,"s":"HRS-1 Wt%"},{"t":10000,"i":2.52e-9,"s":"HRS-1 Wt%"}
    ]
  },
  "bounds": "flush",
  "spacing": 108,
  "hconcat": [
    {
      "width": 499,
      "height": 366,
      "layer": [
        {
          "data": {"name": "cyc"},
          "mark": {"type": "point", "filled": true, "size": 121, "strokeWidth": 1.6, "opacity": 1},
          "encoding": {
            "x": {"field": "c", "type": "quantitative",
              "scale": {"type": "log", "domain": [1, 10000000], "nice": false},
              "axis": {
                "title": "Cycle (#)", "titleFontSize": 29, "titleX": 264, "titleY": 52, "titleBaseline": "middle", "titleAlign": "center",
                "values": [1,2,3,4,5,6,7,8,9,10,20,30,40,50,60,70,80,90,100,200,300,400,500,600,700,800,900,1000,2000,3000,4000,5000,6000,7000,8000,9000,10000,20000,30000,40000,50000,60000,70000,80000,90000,100000,200000,300000,400000,500000,600000,700000,800000,900000,1000000,2000000,3000000,4000000,5000000,6000000,7000000,8000000,9000000,10000000],
                "labelExpr": "abs(log(datum.value)/LN10-round(log(datum.value)/LN10))<0.000001 && round(log(datum.value)/LN10)%2==0 ? '10'+['⁰','¹','²','³','⁴','⁵','⁶','⁷','⁸','⁹','¹⁰','¹¹'][round(log(datum.value)/LN10)] : ''",
                "labelFontSize": {"condition": {"test": "abs(log(datum.value)/LN10-round(log(datum.value)/LN10))<0.000001", "value": 21}, "value": 1},
                "tickSize": {"condition": {"test": "abs(log(datum.value)/LN10-round(log(datum.value)/LN10))<0.000001", "value": -7}, "value": -4},
                "labelPadding": 21
              }
            },
            "y": {"field": "r", "type": "quantitative",
              "scale": {"type": "log", "domain": [10000, 100000000000], "nice": false},
              "axis": {
                "title": "Resistance (Ω)", "titleFontSize": 28.5, "titleX": -68, "titleY": 202, "titleBaseline": "middle", "titleAlign": "center", "titleAngle": 270,
                "values": [10000,20000,30000,40000,50000,60000,70000,80000,90000,100000,200000,300000,400000,500000,600000,700000,800000,900000,1000000,2000000,3000000,4000000,5000000,6000000,7000000,8000000,9000000,10000000,20000000,30000000,40000000,50000000,60000000,70000000,80000000,90000000,100000000,200000000,300000000,400000000,500000000,600000000,700000000,800000000,900000000,1000000000,2000000000,3000000000,4000000000,5000000000,6000000000,7000000000,8000000000,9000000000,10000000000,20000000000,30000000000,40000000000,50000000000,60000000000,70000000000,80000000000,90000000000],
                "labelExpr": "abs(log(datum.value)/LN10-round(log(datum.value)/LN10))<0.000001 && round(log(datum.value)/LN10)%2==0 ? '10'+['⁰','¹','²','³','⁴','⁵','⁶','⁷','⁸','⁹','¹⁰','¹¹'][round(log(datum.value)/LN10)] : ''",
                "labelFontSize": {"condition": {"test": "abs(log(datum.value)/LN10-round(log(datum.value)/LN10))<0.000001", "value": 21}, "value": 1},
                "tickSize": {"condition": {"test": "abs(log(datum.value)/LN10-round(log(datum.value)/LN10))<0.000001", "value": -7}, "value": -4},
                "labelPadding": 12
              }
            },
            "shape": {"field": "s", "type": "nominal",
              "scale": {"domain": ["HRS\u00a0 - 1 wt %", "LRS\u00a0 - 1 wt %", "HRS\u00a0 - 2 wt %", "LRS\u00a0 - 2 wt %"], "range": ["square", "square", "circle", "circle"]},
              "legend": {"orient": "none", "legendX": 352, "legendY": 10, "title": null, "labelFontSize": 17, "rowPadding": 2, "labelOffset": 15, "symbolStrokeWidth": 1.6, "symbolSize": 121}
            },
            "fill": {"field": "s", "type": "nominal",
              "scale": {"domain": ["HRS\u00a0 - 1 wt %", "LRS\u00a0 - 1 wt %", "HRS\u00a0 - 2 wt %", "LRS\u00a0 - 2 wt %"], "range": ["black", "white", "#ff0000", "white"]}
            },
            "stroke": {"field": "s", "type": "nominal",
              "scale": {"domain": ["HRS\u00a0 - 1 wt %", "LRS\u00a0 - 1 wt %", "HRS\u00a0 - 2 wt %", "LRS\u00a0 - 2 wt %"], "range": ["black", "black", "#ff0000", "#ff0000"]}
            },
            "order": {"field": "c", "type": "quantitative"}
          }
        },
        {
          "data": {"name": "pulse"},
          "mark": {"type": "line", "color": "black", "strokeWidth": 2},
          "encoding": {
            "x": {"field": "c", "type": "quantitative", "scale": {"type": "log", "domain": [1, 10000000], "nice": false}},
            "y": {"field": "r", "type": "quantitative", "scale": {"type": "log", "domain": [10000, 100000000000], "nice": false}},
            "order": {"field": "k", "type": "quantitative"}
          }
        },
        {
          "data": {"values": [{}]},
          "mark": {"type": "text", "text": "(a)", "fontSize": 31, "fontWeight": "bold", "font": "Liberation Sans", "color": "black", "align": "center", "baseline": "middle"},
          "encoding": {
            "x": {"datum": 4.56, "type": "quantitative", "scale": {"type": "log", "domain": [1, 10000000], "nice": false}},
            "y": {"datum": 15000000000, "type": "quantitative", "scale": {"type": "log", "domain": [10000, 100000000000], "nice": false}}
          }
        },
        {
          "data": {"values": [{}]},
          "mark": {"type": "text", "text": "Erase @ 5 V", "fontSize": 16, "fontWeight": "bold", "font": "Liberation Sans", "color": "black", "align": "center", "baseline": "middle"},
          "encoding": {
            "x": {"datum": 2050000, "type": "quantitative", "scale": {"type": "log", "domain": [1, 10000000], "nice": false}},
            "y": {"datum": 2930000, "type": "quantitative", "scale": {"type": "log", "domain": [10000, 100000000000], "nice": false}}
          }
        },
        {
          "data": {"values": [{}]},
          "mark": {"type": "text", "text": "Write @ -5 V", "fontSize": 16, "fontWeight": "bold", "font": "Liberation Sans", "color": "black", "align": "center", "baseline": "middle"},
          "encoding": {
            "x": {"datum": 29800, "type": "quantitative", "scale": {"type": "log", "domain": [1, 10000000], "nice": false}},
            "y": {"datum": 442000, "type": "quantitative", "scale": {"type": "log", "domain": [10000, 100000000000], "nice": false}}
          }
        },
        {
          "data": {"values": [{}]},
          "mark": {"type": "text", "text": "Read @ -1 V", "fontSize": 16, "fontWeight": "bold", "font": "Liberation Sans", "color": "black", "align": "center", "baseline": "middle"},
          "encoding": {
            "x": {"datum": 1310000, "type": "quantitative", "scale": {"type": "log", "domain": [1, 10000000], "nice": false}},
            "y": {"datum": 272000, "type": "quantitative", "scale": {"type": "log", "domain": [10000, 100000000000], "nice": false}}
          }
        },
        {
          "data": {"values": [{}]},
          "mark": {"type": "text", "text": "Width 100 μS", "fontSize": 16, "fontWeight": "bold", "font": "Liberation Sans", "color": "black", "align": "center", "baseline": "middle"},
          "encoding": {
            "x": {"datum": 1640000, "type": "quantitative", "scale": {"type": "log", "domain": [1, 10000000], "nice": false}},
            "y": {"datum": 86500, "type": "quantitative", "scale": {"type": "log", "domain": [10000, 100000000000], "nice": false}}
          }
        }
      ]
    },
    {
      "width": 507,
      "height": 382,
      "resolve": {
        "scale": {"fill": "independent", "stroke": "independent", "color": "independent"},
        "legend": {"fill": "independent", "stroke": "independent", "color": "independent"}
      },
      "layer": [
        {
          "data": {"name": "ret"},
          "mark": {"type": "line", "strokeWidth": 2},
          "encoding": {
            "x": {"field": "t", "type": "quantitative", "scale": {"type": "log", "domain": [0.4, 28000], "nice": false},
              "axis": {
                "title": "Retention time (s)", "titleFontSize": 24.5, "titleX": 276, "titleY": 52, "titleBaseline": "middle", "titleAlign": "center",
                "values": [0.4,0.5,0.6,0.7,0.8,0.9,1,2,3,4,5,6,7,8,9,10,20,30,40,50,60,70,80,90,100,200,300,400,500,600,700,800,900,1000,2000,3000,4000,5000,6000,7000,8000,9000,10000,20000],
                "labelExpr": "abs(log(datum.value)/LN10-round(log(datum.value)/LN10))<0.000001 ? '10'+(datum.value<1?'⁻':'')+['⁰','¹','²','³','⁴','⁵','⁶','⁷','⁸','⁹'][abs(round(log(datum.value)/LN10))] : ''",
                "labelFontSize": {"condition": {"test": "abs(log(datum.value)/LN10-round(log(datum.value)/LN10))<0.000001", "value": 21}, "value": 1},
                "tickSize": {"condition": {"test": "abs(log(datum.value)/LN10-round(log(datum.value)/LN10))<0.000001", "value": -7}, "value": -4},
                "labelPadding": 15.5
              }
            },
            "y": {"field": "i", "type": "quantitative", "scale": {"type": "log", "domain": [7.66e-10, 5.09e-5], "nice": false},
              "axis": {
                "title": "Current (A)", "titleFontSize": 24.5, "titleX": -76, "titleY": 189, "titleBaseline": "middle", "titleAlign": "center", "titleAngle": 270,
                "values": [8e-10,9e-10,1e-9,2e-9,3e-9,4e-9,5e-9,6e-9,7e-9,8e-9,9e-9,1e-8,2e-8,3e-8,4e-8,5e-8,6e-8,7e-8,8e-8,9e-8,1e-7,2e-7,3e-7,4e-7,5e-7,6e-7,7e-7,8e-7,9e-7,1e-6,2e-6,3e-6,4e-6,5e-6,6e-6,7e-6,8e-6,9e-6,1e-5,2e-5,3e-5,4e-5],
                "labelExpr": "abs(log(datum.value)/LN10-round(log(datum.value)/LN10))<0.000001 ? '10'+(datum.value<1?'⁻':'')+['⁰','¹','²','³','⁴','⁵','⁶','⁷','⁸','⁹'][abs(round(log(datum.value)/LN10))] : ''",
                "labelFontSize": {"condition": {"test": "abs(log(datum.value)/LN10-round(log(datum.value)/LN10))<0.000001", "value": 21}, "value": 1},
                "tickSize": {"condition": {"test": "abs(log(datum.value)/LN10-round(log(datum.value)/LN10))<0.000001", "value": -7}, "value": -4},
                "labelPadding": 16
              }
            },
            "color": {"field": "s", "type": "nominal",
              "scale": {"domain": ["LRS-2 Wt%", "HRS-2 Wt%", "LRS-1 Wt%", "HRS-1 Wt%"], "range": ["#ff0000", "#ff0000", "black", "black"]},
              "legend": null
            }
          }
        },
        {
          "data": {"name": "ret"},
          "transform": [{"filter": {"field": "s", "oneOf": ["LRS-2 Wt%", "HRS-2 Wt%"]}}],
          "mark": {"type": "point", "shape": "circle", "filled": true, "size": 130, "strokeWidth": 1.6, "opacity": 1},
          "encoding": {
            "x": {"field": "t", "type": "quantitative", "scale": {"type": "log", "domain": [0.4, 28000], "nice": false}},
            "y": {"field": "i", "type": "quantitative", "scale": {"type": "log", "domain": [7.66e-10, 5.09e-5], "nice": false}},
            "fill": {"field": "s", "type": "nominal",
              "scale": {"domain": ["LRS-2 Wt%", "HRS-2 Wt%"], "range": ["white", "#ff0000"]},
              "legend": {"orient": "none", "legendX": 345, "legendY": 47, "title": null, "labelFontSize": 19, "rowPadding": 4.7, "labelOffset": 20, "symbolStrokeWidth": 2, "symbolSize": 121,
                "symbolType": "M-4.1,0H-1M1,0H4.1M-1,0A1,1,0,1,1,1,0A1,1,0,1,1,-1,0Z"}
            },
            "stroke": {"field": "s", "type": "nominal",
              "scale": {"domain": ["LRS-2 Wt%", "HRS-2 Wt%"], "range": ["#ff0000", "#ff0000"]},
              "legend": {"orient": "none", "legendX": 345, "legendY": 47, "title": null, "labelFontSize": 19, "rowPadding": 4.7, "labelOffset": 20, "symbolStrokeWidth": 2, "symbolSize": 121,
                "symbolType": "M-4.1,0H-1M1,0H4.1M-1,0A1,1,0,1,1,1,0A1,1,0,1,1,-1,0Z"}
            }
          }
        },
        {
          "data": {"name": "ret"},
          "transform": [{"filter": {"field": "s", "oneOf": ["LRS-1 Wt%", "HRS-1 Wt%"]}}],
          "mark": {"type": "point", "shape": "square", "filled": true, "size": 95, "strokeWidth": 1.6, "opacity": 1},
          "encoding": {
            "x": {"field": "t", "type": "quantitative", "scale": {"type": "log", "domain": [0.4, 28000], "nice": false}},
            "y": {"field": "i", "type": "quantitative", "scale": {"type": "log", "domain": [7.66e-10, 5.09e-5], "nice": false}},
            "fill": {"field": "s", "type": "nominal",
              "scale": {"domain": ["LRS-1 Wt%", "HRS-1 Wt%"], "range": ["white", "black"]},
              "legend": {"orient": "none", "legendX": 345, "legendY": 96.4, "title": null, "labelFontSize": 19, "rowPadding": 4.7, "labelOffset": 20, "symbolStrokeWidth": 2, "symbolSize": 121,
                "symbolType": "M-4.1,0H-0.85M0.85,0H4.1M-0.85,-0.85H0.85V0.85H-0.85Z"}
            },
            "stroke": {"field": "s", "type": "nominal",
              "scale": {"domain": ["LRS-1 Wt%", "HRS-1 Wt%"], "range": ["black", "black"]},
              "legend": {"orient": "none", "legendX": 345, "legendY": 96.4, "title": null, "labelFontSize": 19, "rowPadding": 4.7, "labelOffset": 20, "symbolStrokeWidth": 2, "symbolSize": 121,
                "symbolType": "M-4.1,0H-0.85M0.85,0H4.1M-0.85,-0.85H0.85V0.85H-0.85Z"}
            }
          }
        },
        {
          "data": {"values": [{}]},
          "mark": {"type": "text", "text": "(b)", "fontSize": 31, "fontWeight": "bold", "font": "Liberation Sans", "color": "black", "align": "center", "baseline": "middle"},
          "encoding": {
            "x": {"datum": 3.66, "type": "quantitative", "scale": {"type": "log", "domain": [0.4, 28000], "nice": false}},
            "y": {"datum": 6.86e-6, "type": "quantitative", "scale": {"type": "log", "domain": [7.66e-10, 5.09e-5], "nice": false}}
          }
        }
      ]
    }
  ]
}
